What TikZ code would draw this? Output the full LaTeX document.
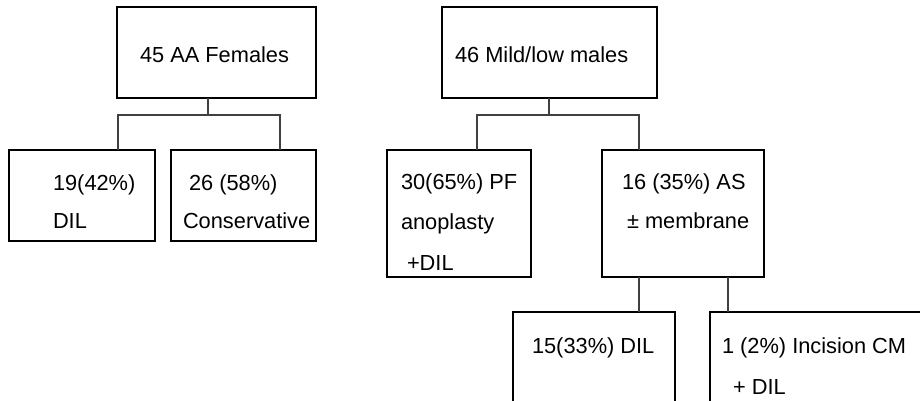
\documentclass[tikz,border=0pt]{standalone}
\usepackage{fontspec}
\setmainfont{Liberation Sans}
\begin{document}
\begin{tikzpicture}[x=1pt,y=-1pt,
  box/.style={draw=black,line width=2.6pt,inner sep=0pt,outer sep=0pt,anchor=north west},
  txt/.style={inner sep=0pt,outer sep=0pt,anchor=base west,font=\fontsize{21.8}{26}\selectfont},
  conn/.style={draw=black!75,line width=1.8pt}]
\useasboundingbox (0,0) rectangle (920,401);
\clip (0,0) rectangle (920,401);
\fill[white] (0,0) rectangle (920,401);
% boxes
\node[box,minimum width=199pt,minimum height=91pt] (A) at (117,7) {};
\node[box,minimum width=146pt,minimum height=91pt] (B) at (9,150) {};
\node[box,minimum width=145pt,minimum height=91pt] (C) at (171,150) {};
\node[box,minimum width=215pt,minimum height=91pt] (D) at (442,7) {};
\node[box,minimum width=144pt,minimum height=127pt] (E) at (387,150) {};
\node[box,minimum width=162pt,minimum height=127pt] (F) at (602,150) {};
\node[box,minimum width=162pt,minimum height=130pt] (G) at (513,312) {};
\node[box,minimum width=260pt,minimum height=130pt] (H) at (710,312) {};
% texts
\node[txt] (At) at (140,63) {45 AA Females};
\node[txt] (Bt1) at (53,190) {19(42\%)};
\node[txt] (Bt2) at (53,228) {DIL};
\node[txt] (Ct1) at (189,190) {26 (58\%)};
\node[txt] (Ct2) at (183,228) {Conservative};
\node[txt] (Dt) at (455,63) {46 Mild/low males};
\node[txt] (Et1) at (401,189) {30(65\%) PF};
\node[txt] (Et2) at (401,229) {anoplasty};
\node[txt] (Et3) at (407,270) {+DIL};
\node[txt] (Ft1) at (622,189) {16 (35\%) AS};
\node[txt] (Ft2) at (627,228) {± membrane};
\node[txt] (Gt) at (532,353) {15(33\%) DIL};
\node[txt] (Ht1) at (722,353) {1 (2\%) Incision CM};
\node[txt] (Ht2) at (733,394) {+ DIL};
% connectors
\coordinate (a0) at ([xshift=91pt]A.south west);
\coordinate (b0) at ([xshift=109pt]B.north west);
\coordinate (c0) at ([xshift=109pt]C.north west);
\draw[conn] (a0) -- ++(0,17) -| (b0);
\draw[conn] (a0) ++(0,17) -| (c0);
\coordinate (d0) at ([xshift=107pt]D.south west);
\coordinate (e0) at ([xshift=90pt]E.north west);
\coordinate (f0) at ([xshift=37pt]F.north west);
\draw[conn] (d0) -- ++(0,17) -| (e0);
\draw[conn] (d0) ++(0,17) -| (f0);
\coordinate (f1) at ([xshift=37pt]F.south west);
\coordinate (f2) at ([xshift=126pt]F.south west);
\draw[conn] (f1) -- (f1 |- G.north);
\draw[conn] (f2) -- (f2 |- H.north);
\end{tikzpicture}
\end{document}
